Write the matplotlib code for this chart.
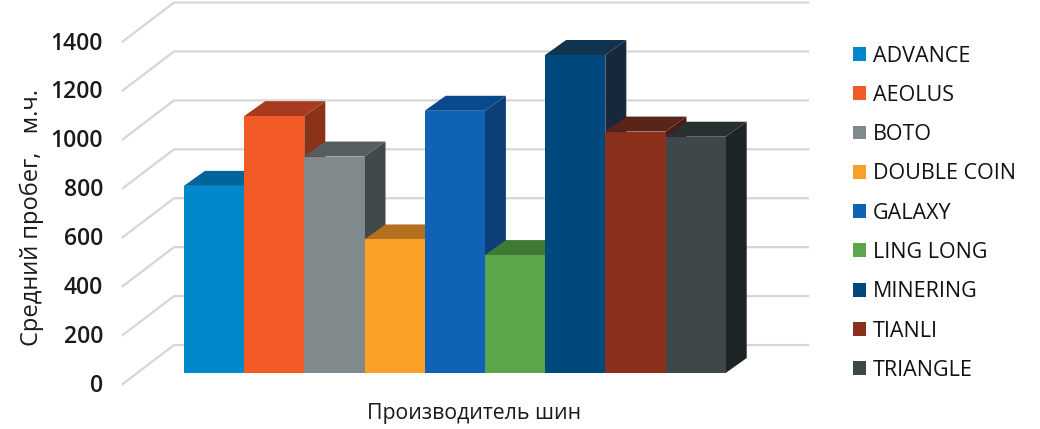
import matplotlib
matplotlib.use('Agg')
import numpy as np
import matplotlib.pyplot as plt

brands = ['ADVANCE', 'AEOLUS', 'BOTO', 'DOUBLE COIN', 'GALAXY', 'LING LONG', 'MINERING', 'TIANLI', 'TRIANGLE']
mileage = [765, 1050, 885, 546, 1072, 482, 1300, 987, 966]
y_ticks = [0, 200, 400, 600, 800, 1000, 1200, 1400]

front_colors = ['#0088CC', '#F15A24', '#808A8D', '#FBA026', '#0F62B5', '#5BA64B', '#00497D', '#892F1A', '#40474A']
top_colors = ['#00659A', '#A63B1F', '#565E60', '#B5701F', '#0A4A8C', '#3F7A34', '#10334F', '#5A2418', '#2A3032']
side_colors = ['#005A88', '#8A3318', '#42494B', '#96591A', '#0B3F75', '#356A2C', '#15283C', '#4A1D14', '#1E2325']

plt.rcParams['font.family'] = ['Open Sans', 'DejaVu Sans']

W, H = 1040, 429
PX_X = 60.2    # pixels per bar
PX_Y = 0.2446  # pixels per km
x0 = 214.0     # pixel centre of first bar
y0 = 373.0     # pixel of value 0

fig = plt.figure(figsize=(W / 100, H / 100), dpi=100)
ax = fig.add_axes([0, 0, 1, 1])
ax.set_xlim((0 - x0) / PX_X, (W - x0) / PX_X)
ax.set_ylim((y0 - H) / PX_Y, y0 / PX_Y)
ax.axis('off')

# grid on the wall and the left side
grid_back = (174 - x0) / PX_X
grid_front = (122.7 - x0) / PX_X
grid_end = (808 - x0) / PX_X
up = (373 - 345) / PX_Y
down = (384 - 373) / PX_Y
label_down = (384 - 373 + 2) / PX_Y
for v in y_ticks:
    ax.plot([grid_front, grid_back, grid_end], [v - down, v + up, v + up],
            color='#D6D6D6', lw=1.6, zorder=1, solid_joinstyle='round')
    ax.text((103 - x0) / PX_X, v - label_down, str(v), ha='right', va='center',
            fontsize=16.5, fontweight='semibold', color='#1a1a1a')

# bars: side and top faces first, later bars cover them
dx = 21 / PX_X
dy = 15 / PX_Y
half = 0.5
for i, v in enumerate(mileage):
    z = 2 + i
    ax.fill([i + half, i + half + dx, i + half + dx, i + half],
            [0, dy, v + dy, v], color=side_colors[i], lw=0, zorder=z)
    ax.fill([i - half, i - half + dx, i + half + dx, i + half],
            [v, v + dy, v + dy, v], color=top_colors[i], lw=0, zorder=z)
    ax.bar(i, v, width=1.0, color=front_colors[i], lw=0, zorder=z + 0.5, label=brands[i])

ax.text((474 - x0) / PX_X, (373 - 414) / PX_Y, 'Производитель шин', ha='center', va='center',
        fontsize=15.3, fontweight='medium', color='#1a1a1a')
ax.text((32 - x0) / PX_X, (373 - 218) / PX_Y, 'Средний пробег,   м.ч.', ha='center', va='center',
        rotation=90, fontsize=17, fontweight='medium', color='#1a1a1a')

ax.legend(loc='upper left', bbox_to_anchor=(853 / W, 1 - 45.5 / H), frameon=False,
          fontsize=15.5, handlelength=0.62, handleheight=0.62, handletextpad=0.29,
          labelspacing=0.85, borderpad=0, borderaxespad=0, labelcolor='#111111')

fig.savefig('out.png', dpi=100)
